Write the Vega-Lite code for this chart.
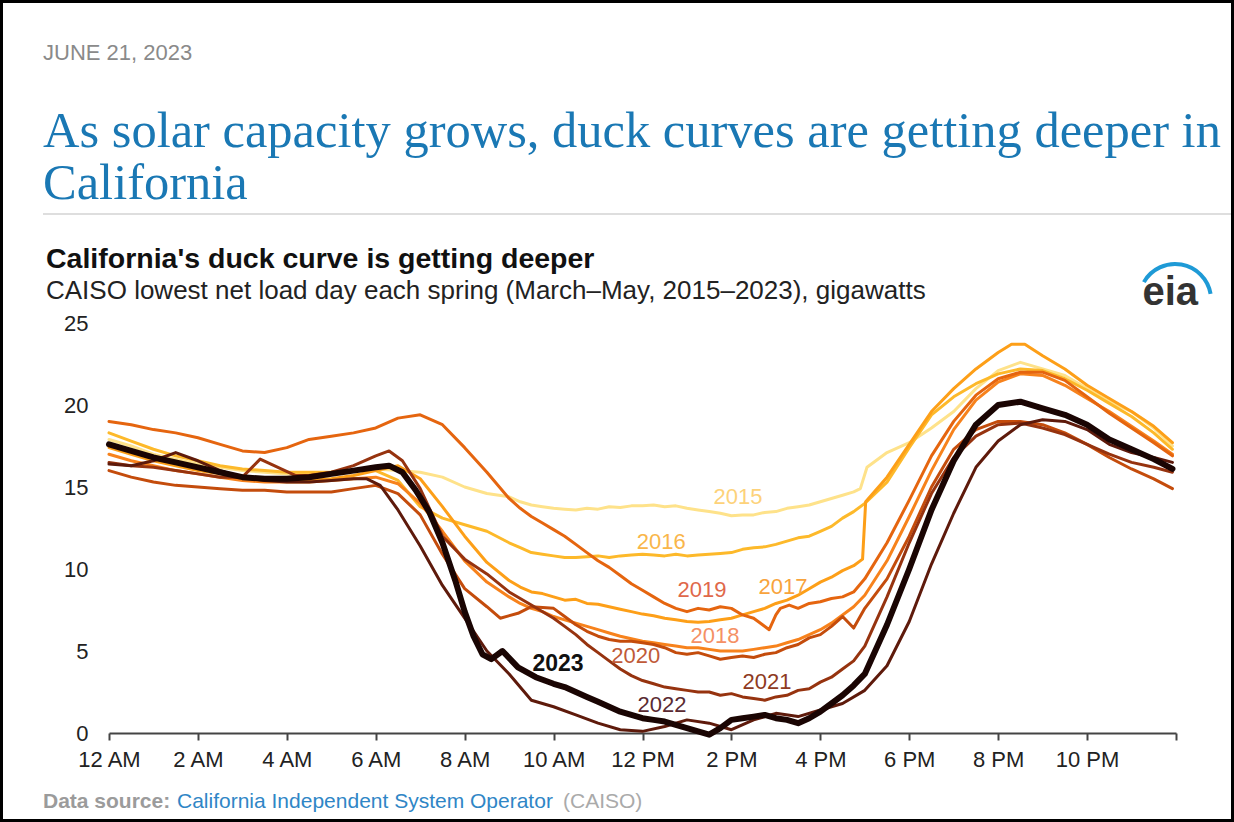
{
  "$schema": "https://vega.github.io/schema/vega-lite/v6.json",
  "autosize": {"type": "none"},
  "width": 1067,
  "height": 410,
  "padding": {"left": 109, "top": 323, "right": 58, "bottom": 89},
  "background": "white",
  "config": {"view": {"stroke": null}, "axis": {"labelFont": "Liberation Sans", "labelColor": "#222222"}},
  "datasets": {
    "lines": [
      {"year":"2015","h":0,"v":17.9},{"year":"2015","h":0.5,"v":17.5},{"year":"2015","h":1,"v":17.0},{"year":"2015","h":1.5,"v":16.7},{"year":"2015","h":2,"v":16.4},{"year":"2015","h":2.5,"v":16.2},{"year":"2015","h":3,"v":16.0},{"year":"2015","h":3.5,"v":15.9},{"year":"2015","h":4,"v":15.8},{"year":"2015","h":4.5,"v":15.8},{"year":"2015","h":5,"v":15.9},{"year":"2015","h":5.5,"v":16.0},{"year":"2015","h":6,"v":16.1},{"year":"2015","h":6.5,"v":16.0},{"year":"2015","h":7,"v":15.9},{"year":"2015","h":7.5,"v":15.6},{"year":"2015","h":8,"v":15.0},{"year":"2015","h":8.5,"v":14.6},{"year":"2015","h":9,"v":14.4},{"year":"2015","h":9.25,"v":14.1},{"year":"2015","h":9.5,"v":13.9},{"year":"2015","h":9.75,"v":13.8},{"year":"2015","h":10,"v":13.7},{"year":"2015","h":10.25,"v":13.65},{"year":"2015","h":10.5,"v":13.6},{"year":"2015","h":10.75,"v":13.7},{"year":"2015","h":11,"v":13.65},{"year":"2015","h":11.25,"v":13.8},{"year":"2015","h":11.5,"v":13.75},{"year":"2015","h":11.75,"v":13.85},{"year":"2015","h":12,"v":13.85},{"year":"2015","h":12.25,"v":13.9},{"year":"2015","h":12.5,"v":13.8},{"year":"2015","h":12.75,"v":13.85},{"year":"2015","h":13,"v":13.7},{"year":"2015","h":13.25,"v":13.6},{"year":"2015","h":13.5,"v":13.5},{"year":"2015","h":13.75,"v":13.4},{"year":"2015","h":14,"v":13.25},{"year":"2015","h":14.25,"v":13.3},{"year":"2015","h":14.5,"v":13.3},{"year":"2015","h":14.75,"v":13.45},{"year":"2015","h":15,"v":13.5},{"year":"2015","h":15.25,"v":13.7},{"year":"2015","h":15.5,"v":13.8},{"year":"2015","h":15.75,"v":13.9},{"year":"2015","h":16,"v":14.1},{"year":"2015","h":16.25,"v":14.3},{"year":"2015","h":16.5,"v":14.5},{"year":"2015","h":16.75,"v":14.7},{"year":"2015","h":16.9,"v":14.9},{"year":"2015","h":17.05,"v":16.2},{"year":"2015","h":17.5,"v":17.1},{"year":"2015","h":18,"v":17.7},{"year":"2015","h":18.5,"v":18.6},{"year":"2015","h":19,"v":19.6},{"year":"2015","h":19.5,"v":21.0},{"year":"2015","h":20,"v":22.1},{"year":"2015","h":20.5,"v":22.6},{"year":"2015","h":21,"v":22.2},{"year":"2015","h":21.5,"v":21.8},{"year":"2015","h":22,"v":21.0},{"year":"2015","h":22.5,"v":20.2},{"year":"2015","h":23,"v":19.6},{"year":"2015","h":23.5,"v":18.6},{"year":"2015","h":23.92,"v":17.5},
      {"year":"2016","h":0,"v":18.3},{"year":"2016","h":0.5,"v":17.8},{"year":"2016","h":1,"v":17.3},{"year":"2016","h":1.5,"v":16.9},{"year":"2016","h":2,"v":16.6},{"year":"2016","h":2.5,"v":16.3},{"year":"2016","h":3,"v":16.1},{"year":"2016","h":3.5,"v":16.0},{"year":"2016","h":4,"v":15.9},{"year":"2016","h":4.5,"v":15.9},{"year":"2016","h":5,"v":15.9},{"year":"2016","h":5.5,"v":16.0},{"year":"2016","h":6,"v":16.0},{"year":"2016","h":6.5,"v":15.4},{"year":"2016","h":7,"v":13.8},{"year":"2016","h":7.5,"v":13.1},{"year":"2016","h":8,"v":12.7},{"year":"2016","h":8.5,"v":12.3},{"year":"2016","h":9,"v":11.6},{"year":"2016","h":9.25,"v":11.3},{"year":"2016","h":9.5,"v":11.0},{"year":"2016","h":9.75,"v":10.9},{"year":"2016","h":10,"v":10.8},{"year":"2016","h":10.25,"v":10.7},{"year":"2016","h":10.5,"v":10.7},{"year":"2016","h":10.75,"v":10.75},{"year":"2016","h":11,"v":10.8},{"year":"2016","h":11.25,"v":10.7},{"year":"2016","h":11.5,"v":10.8},{"year":"2016","h":11.75,"v":10.85},{"year":"2016","h":12,"v":10.9},{"year":"2016","h":12.25,"v":10.85},{"year":"2016","h":12.5,"v":10.8},{"year":"2016","h":12.75,"v":10.9},{"year":"2016","h":13,"v":10.8},{"year":"2016","h":13.25,"v":10.85},{"year":"2016","h":13.5,"v":10.9},{"year":"2016","h":13.75,"v":10.95},{"year":"2016","h":14,"v":11.0},{"year":"2016","h":14.25,"v":11.2},{"year":"2016","h":14.5,"v":11.3},{"year":"2016","h":14.75,"v":11.35},{"year":"2016","h":15,"v":11.5},{"year":"2016","h":15.25,"v":11.7},{"year":"2016","h":15.5,"v":11.9},{"year":"2016","h":15.75,"v":12.0},{"year":"2016","h":16,"v":12.3},{"year":"2016","h":16.25,"v":12.6},{"year":"2016","h":16.5,"v":13.1},{"year":"2016","h":16.75,"v":13.5},{"year":"2016","h":17,"v":14.0},{"year":"2016","h":17.5,"v":15.3},{"year":"2016","h":18,"v":17.4},{"year":"2016","h":18.5,"v":19.4},{"year":"2016","h":19,"v":20.5},{"year":"2016","h":19.5,"v":21.3},{"year":"2016","h":20,"v":21.9},{"year":"2016","h":20.5,"v":22.2},{"year":"2016","h":21,"v":22.1},{"year":"2016","h":21.5,"v":21.6},{"year":"2016","h":22,"v":20.9},{"year":"2016","h":22.5,"v":20.1},{"year":"2016","h":23,"v":19.3},{"year":"2016","h":23.5,"v":18.3},{"year":"2016","h":23.92,"v":17.3},
      {"year":"2017","h":0,"v":17.4},{"year":"2017","h":0.5,"v":17.0},{"year":"2017","h":1,"v":16.6},{"year":"2017","h":1.5,"v":16.3},{"year":"2017","h":2,"v":16.0},{"year":"2017","h":2.5,"v":15.8},{"year":"2017","h":3,"v":15.6},{"year":"2017","h":3.5,"v":15.5},{"year":"2017","h":4,"v":15.4},{"year":"2017","h":4.5,"v":15.4},{"year":"2017","h":5,"v":15.5},{"year":"2017","h":5.5,"v":15.7},{"year":"2017","h":6,"v":16.0},{"year":"2017","h":6.5,"v":16.3},{"year":"2017","h":7,"v":15.5},{"year":"2017","h":7.5,"v":13.8},{"year":"2017","h":8,"v":12.0},{"year":"2017","h":8.5,"v":10.4},{"year":"2017","h":9,"v":9.3},{"year":"2017","h":9.25,"v":8.9},{"year":"2017","h":9.5,"v":8.6},{"year":"2017","h":9.75,"v":8.5},{"year":"2017","h":10,"v":8.3},{"year":"2017","h":10.25,"v":8.1},{"year":"2017","h":10.5,"v":8.15},{"year":"2017","h":10.75,"v":7.9},{"year":"2017","h":11,"v":7.85},{"year":"2017","h":11.25,"v":7.7},{"year":"2017","h":11.5,"v":7.55},{"year":"2017","h":11.75,"v":7.4},{"year":"2017","h":12,"v":7.25},{"year":"2017","h":12.25,"v":7.15},{"year":"2017","h":12.5,"v":7.0},{"year":"2017","h":12.75,"v":6.9},{"year":"2017","h":13,"v":6.8},{"year":"2017","h":13.25,"v":6.75},{"year":"2017","h":13.5,"v":6.8},{"year":"2017","h":13.75,"v":6.9},{"year":"2017","h":14,"v":7.0},{"year":"2017","h":14.25,"v":7.2},{"year":"2017","h":14.5,"v":7.4},{"year":"2017","h":14.75,"v":7.6},{"year":"2017","h":15,"v":7.9},{"year":"2017","h":15.25,"v":8.1},{"year":"2017","h":15.5,"v":8.4},{"year":"2017","h":15.75,"v":8.8},{"year":"2017","h":16,"v":9.2},{"year":"2017","h":16.25,"v":9.5},{"year":"2017","h":16.5,"v":9.9},{"year":"2017","h":16.75,"v":10.2},{"year":"2017","h":16.95,"v":10.6},{"year":"2017","h":17.02,"v":14.1},{"year":"2017","h":17.5,"v":15.6},{"year":"2017","h":18,"v":17.6},{"year":"2017","h":18.5,"v":19.6},{"year":"2017","h":19,"v":21.0},{"year":"2017","h":19.5,"v":22.2},{"year":"2017","h":20,"v":23.2},{"year":"2017","h":20.3,"v":23.7},{"year":"2017","h":20.6,"v":23.7},{"year":"2017","h":21,"v":23.0},{"year":"2017","h":21.5,"v":22.2},{"year":"2017","h":22,"v":21.2},{"year":"2017","h":22.5,"v":20.4},{"year":"2017","h":23,"v":19.6},{"year":"2017","h":23.5,"v":18.7},{"year":"2017","h":23.92,"v":17.7},
      {"year":"2018","h":0,"v":17.0},{"year":"2018","h":0.5,"v":16.6},{"year":"2018","h":1,"v":16.3},{"year":"2018","h":1.5,"v":16.0},{"year":"2018","h":2,"v":15.8},{"year":"2018","h":2.5,"v":15.6},{"year":"2018","h":3,"v":15.4},{"year":"2018","h":3.5,"v":15.3},{"year":"2018","h":4,"v":15.3},{"year":"2018","h":4.5,"v":15.3},{"year":"2018","h":5,"v":15.4},{"year":"2018","h":5.5,"v":15.5},{"year":"2018","h":6,"v":15.6},{"year":"2018","h":6.5,"v":15.2},{"year":"2018","h":7,"v":14.0},{"year":"2018","h":7.5,"v":12.3},{"year":"2018","h":8,"v":10.5},{"year":"2018","h":8.5,"v":9.2},{"year":"2018","h":9,"v":8.3},{"year":"2018","h":9.25,"v":7.9},{"year":"2018","h":9.5,"v":7.6},{"year":"2018","h":9.75,"v":7.4},{"year":"2018","h":10,"v":7.1},{"year":"2018","h":10.25,"v":6.9},{"year":"2018","h":10.5,"v":6.7},{"year":"2018","h":10.75,"v":6.5},{"year":"2018","h":11,"v":6.3},{"year":"2018","h":11.25,"v":6.1},{"year":"2018","h":11.5,"v":5.9},{"year":"2018","h":11.75,"v":5.75},{"year":"2018","h":12,"v":5.6},{"year":"2018","h":12.25,"v":5.5},{"year":"2018","h":12.5,"v":5.4},{"year":"2018","h":12.75,"v":5.3},{"year":"2018","h":13,"v":5.2},{"year":"2018","h":13.25,"v":5.2},{"year":"2018","h":13.5,"v":5.1},{"year":"2018","h":13.75,"v":5.0},{"year":"2018","h":14,"v":5.0},{"year":"2018","h":14.25,"v":5.0},{"year":"2018","h":14.5,"v":5.1},{"year":"2018","h":14.75,"v":5.2},{"year":"2018","h":15,"v":5.3},{"year":"2018","h":15.25,"v":5.5},{"year":"2018","h":15.5,"v":5.7},{"year":"2018","h":15.75,"v":6.0},{"year":"2018","h":16,"v":6.3},{"year":"2018","h":16.25,"v":6.7},{"year":"2018","h":16.5,"v":7.2},{"year":"2018","h":16.75,"v":7.7},{"year":"2018","h":17,"v":8.4},{"year":"2018","h":17.5,"v":10.5},{"year":"2018","h":18,"v":13.2},{"year":"2018","h":18.5,"v":16.0},{"year":"2018","h":19,"v":18.5},{"year":"2018","h":19.5,"v":20.3},{"year":"2018","h":20,"v":21.4},{"year":"2018","h":20.5,"v":21.9},{"year":"2018","h":21,"v":21.8},{"year":"2018","h":21.5,"v":21.2},{"year":"2018","h":22,"v":20.4},{"year":"2018","h":22.5,"v":19.6},{"year":"2018","h":23,"v":18.7},{"year":"2018","h":23.5,"v":17.8},{"year":"2018","h":23.92,"v":17.0},
      {"year":"2019","h":0,"v":19.0},{"year":"2019","h":0.5,"v":18.8},{"year":"2019","h":1,"v":18.5},{"year":"2019","h":1.5,"v":18.3},{"year":"2019","h":2,"v":18.0},{"year":"2019","h":2.5,"v":17.6},{"year":"2019","h":3,"v":17.2},{"year":"2019","h":3.5,"v":17.1},{"year":"2019","h":4,"v":17.4},{"year":"2019","h":4.5,"v":17.9},{"year":"2019","h":5,"v":18.1},{"year":"2019","h":5.5,"v":18.3},{"year":"2019","h":6,"v":18.6},{"year":"2019","h":6.5,"v":19.2},{"year":"2019","h":7,"v":19.4},{"year":"2019","h":7.5,"v":18.8},{"year":"2019","h":8,"v":17.4},{"year":"2019","h":8.5,"v":15.9},{"year":"2019","h":9,"v":14.3},{"year":"2019","h":9.25,"v":13.7},{"year":"2019","h":9.5,"v":13.2},{"year":"2019","h":9.75,"v":12.8},{"year":"2019","h":10,"v":12.4},{"year":"2019","h":10.25,"v":12.0},{"year":"2019","h":10.5,"v":11.5},{"year":"2019","h":10.75,"v":11.0},{"year":"2019","h":11,"v":10.5},{"year":"2019","h":11.25,"v":10.1},{"year":"2019","h":11.5,"v":9.6},{"year":"2019","h":11.75,"v":9.1},{"year":"2019","h":12,"v":8.7},{"year":"2019","h":12.25,"v":8.3},{"year":"2019","h":12.5,"v":7.9},{"year":"2019","h":12.75,"v":7.6},{"year":"2019","h":13,"v":7.4},{"year":"2019","h":13.25,"v":7.6},{"year":"2019","h":13.5,"v":7.5},{"year":"2019","h":13.75,"v":7.7},{"year":"2019","h":14,"v":7.6},{"year":"2019","h":14.25,"v":7.2},{"year":"2019","h":14.5,"v":7.0},{"year":"2019","h":14.7,"v":6.6},{"year":"2019","h":14.85,"v":6.3},{"year":"2019","h":15,"v":7.2},{"year":"2019","h":15.1,"v":7.6},{"year":"2019","h":15.3,"v":7.8},{"year":"2019","h":15.5,"v":7.6},{"year":"2019","h":15.75,"v":7.9},{"year":"2019","h":16,"v":8.0},{"year":"2019","h":16.25,"v":8.2},{"year":"2019","h":16.5,"v":8.3},{"year":"2019","h":16.75,"v":8.6},{"year":"2019","h":17,"v":9.4},{"year":"2019","h":17.5,"v":11.6},{"year":"2019","h":18,"v":14.2},{"year":"2019","h":18.5,"v":16.9},{"year":"2019","h":19,"v":19.0},{"year":"2019","h":19.5,"v":20.6},{"year":"2019","h":20,"v":21.6},{"year":"2019","h":20.5,"v":22.0},{"year":"2019","h":21,"v":22.0},{"year":"2019","h":21.5,"v":21.5},{"year":"2019","h":22,"v":20.5},{"year":"2019","h":22.5,"v":19.5},{"year":"2019","h":23,"v":18.6},{"year":"2019","h":23.5,"v":17.7},{"year":"2019","h":23.92,"v":16.9},
      {"year":"2020","h":0,"v":16.0},{"year":"2020","h":0.5,"v":15.6},{"year":"2020","h":1,"v":15.3},{"year":"2020","h":1.5,"v":15.1},{"year":"2020","h":2,"v":15.0},{"year":"2020","h":2.5,"v":14.9},{"year":"2020","h":3,"v":14.8},{"year":"2020","h":3.5,"v":14.8},{"year":"2020","h":4,"v":14.7},{"year":"2020","h":4.5,"v":14.7},{"year":"2020","h":5,"v":14.7},{"year":"2020","h":5.5,"v":14.9},{"year":"2020","h":6,"v":15.1},{"year":"2020","h":6.5,"v":14.6},{"year":"2020","h":7,"v":13.3},{"year":"2020","h":7.5,"v":10.9},{"year":"2020","h":8,"v":8.8},{"year":"2020","h":8.5,"v":7.7},{"year":"2020","h":8.8,"v":7.0},{"year":"2020","h":9.2,"v":7.3},{"year":"2020","h":9.5,"v":7.7},{"year":"2020","h":10,"v":7.6},{"year":"2020","h":10.25,"v":7.1},{"year":"2020","h":10.5,"v":6.6},{"year":"2020","h":10.75,"v":6.2},{"year":"2020","h":11,"v":5.9},{"year":"2020","h":11.25,"v":5.7},{"year":"2020","h":11.5,"v":5.6},{"year":"2020","h":11.75,"v":5.6},{"year":"2020","h":12,"v":5.5},{"year":"2020","h":12.25,"v":5.4},{"year":"2020","h":12.5,"v":5.2},{"year":"2020","h":12.75,"v":4.9},{"year":"2020","h":13,"v":4.8},{"year":"2020","h":13.25,"v":4.9},{"year":"2020","h":13.5,"v":4.7},{"year":"2020","h":13.75,"v":4.5},{"year":"2020","h":14,"v":4.6},{"year":"2020","h":14.25,"v":4.7},{"year":"2020","h":14.5,"v":4.6},{"year":"2020","h":14.75,"v":4.8},{"year":"2020","h":15,"v":4.9},{"year":"2020","h":15.25,"v":5.2},{"year":"2020","h":15.5,"v":5.4},{"year":"2020","h":15.75,"v":5.8},{"year":"2020","h":16,"v":6.0},{"year":"2020","h":16.25,"v":6.5},{"year":"2020","h":16.5,"v":7.1},{"year":"2020","h":16.75,"v":6.4},{"year":"2020","h":17,"v":7.6},{"year":"2020","h":17.5,"v":9.4},{"year":"2020","h":18,"v":12.0},{"year":"2020","h":18.5,"v":15.0},{"year":"2020","h":19,"v":17.3},{"year":"2020","h":19.5,"v":18.5},{"year":"2020","h":20,"v":19.0},{"year":"2020","h":20.5,"v":19.0},{"year":"2020","h":21,"v":18.8},{"year":"2020","h":21.5,"v":18.3},{"year":"2020","h":22,"v":17.6},{"year":"2020","h":22.5,"v":16.8},{"year":"2020","h":23,"v":16.1},{"year":"2020","h":23.5,"v":15.5},{"year":"2020","h":23.92,"v":14.9},
      {"year":"2021","h":0,"v":16.5},{"year":"2021","h":0.5,"v":16.3},{"year":"2021","h":1,"v":16.2},{"year":"2021","h":1.5,"v":16.0},{"year":"2021","h":2,"v":15.8},{"year":"2021","h":2.5,"v":15.6},{"year":"2021","h":3,"v":15.6},{"year":"2021","h":3.4,"v":16.7},{"year":"2021","h":3.8,"v":16.2},{"year":"2021","h":4.2,"v":15.7},{"year":"2021","h":4.5,"v":15.7},{"year":"2021","h":5,"v":15.9},{"year":"2021","h":5.5,"v":16.3},{"year":"2021","h":6,"v":16.9},{"year":"2021","h":6.3,"v":17.2},{"year":"2021","h":6.6,"v":16.6},{"year":"2021","h":7,"v":14.9},{"year":"2021","h":7.5,"v":12.0},{"year":"2021","h":8,"v":10.6},{"year":"2021","h":8.5,"v":9.7},{"year":"2021","h":9,"v":8.6},{"year":"2021","h":9.5,"v":7.8},{"year":"2021","h":10,"v":7.0},{"year":"2021","h":10.25,"v":6.5},{"year":"2021","h":10.5,"v":6.0},{"year":"2021","h":10.75,"v":5.4},{"year":"2021","h":11,"v":4.9},{"year":"2021","h":11.25,"v":4.4},{"year":"2021","h":11.5,"v":3.9},{"year":"2021","h":11.75,"v":3.5},{"year":"2021","h":12,"v":3.2},{"year":"2021","h":12.25,"v":3.0},{"year":"2021","h":12.5,"v":2.8},{"year":"2021","h":12.75,"v":2.7},{"year":"2021","h":13,"v":2.6},{"year":"2021","h":13.25,"v":2.5},{"year":"2021","h":13.5,"v":2.5},{"year":"2021","h":13.75,"v":2.3},{"year":"2021","h":14,"v":2.4},{"year":"2021","h":14.25,"v":2.2},{"year":"2021","h":14.5,"v":2.1},{"year":"2021","h":14.75,"v":2.0},{"year":"2021","h":15,"v":2.2},{"year":"2021","h":15.25,"v":2.3},{"year":"2021","h":15.5,"v":2.6},{"year":"2021","h":15.75,"v":2.7},{"year":"2021","h":16,"v":3.1},{"year":"2021","h":16.25,"v":3.4},{"year":"2021","h":16.5,"v":3.9},{"year":"2021","h":16.75,"v":4.4},{"year":"2021","h":17,"v":5.3},{"year":"2021","h":17.5,"v":8.3},{"year":"2021","h":18,"v":11.6},{"year":"2021","h":18.5,"v":14.6},{"year":"2021","h":19,"v":16.8},{"year":"2021","h":19.5,"v":18.1},{"year":"2021","h":20,"v":18.8},{"year":"2021","h":20.5,"v":18.9},{"year":"2021","h":21,"v":18.6},{"year":"2021","h":21.5,"v":18.2},{"year":"2021","h":22,"v":17.6},{"year":"2021","h":22.5,"v":17.0},{"year":"2021","h":23,"v":16.5},{"year":"2021","h":23.5,"v":16.2},{"year":"2021","h":23.92,"v":15.9},
      {"year":"2022","h":0,"v":16.4},{"year":"2022","h":0.5,"v":16.3},{"year":"2022","h":1,"v":16.6},{"year":"2022","h":1.5,"v":17.1},{"year":"2022","h":2,"v":16.6},{"year":"2022","h":2.5,"v":16.0},{"year":"2022","h":3,"v":15.6},{"year":"2022","h":3.5,"v":15.4},{"year":"2022","h":4,"v":15.3},{"year":"2022","h":4.5,"v":15.3},{"year":"2022","h":5,"v":15.4},{"year":"2022","h":5.5,"v":15.5},{"year":"2022","h":5.8,"v":15.5},{"year":"2022","h":6.1,"v":15.1},{"year":"2022","h":6.5,"v":13.6},{"year":"2022","h":6.75,"v":12.5},{"year":"2022","h":7,"v":11.4},{"year":"2022","h":7.5,"v":9.0},{"year":"2022","h":8,"v":7.0},{"year":"2022","h":8.5,"v":5.0},{"year":"2022","h":9,"v":3.6},{"year":"2022","h":9.5,"v":2.0},{"year":"2022","h":10,"v":1.6},{"year":"2022","h":10.5,"v":1.1},{"year":"2022","h":11,"v":0.6},{"year":"2022","h":11.5,"v":0.2},{"year":"2022","h":12,"v":0.1},{"year":"2022","h":12.5,"v":0.4},{"year":"2022","h":13,"v":0.8},{"year":"2022","h":13.5,"v":0.6},{"year":"2022","h":14,"v":0.2},{"year":"2022","h":14.5,"v":0.8},{"year":"2022","h":15,"v":1.2},{"year":"2022","h":15.5,"v":1.0},{"year":"2022","h":16,"v":1.4},{"year":"2022","h":16.5,"v":1.8},{"year":"2022","h":17,"v":2.6},{"year":"2022","h":17.5,"v":4.1},{"year":"2022","h":18,"v":6.8},{"year":"2022","h":18.5,"v":10.3},{"year":"2022","h":19,"v":13.4},{"year":"2022","h":19.5,"v":16.2},{"year":"2022","h":20,"v":17.8},{"year":"2022","h":20.5,"v":18.8},{"year":"2022","h":21,"v":19.1},{"year":"2022","h":21.5,"v":19.0},{"year":"2022","h":22,"v":18.5},{"year":"2022","h":22.5,"v":17.6},{"year":"2022","h":23,"v":17.1},{"year":"2022","h":23.5,"v":16.8},{"year":"2022","h":23.92,"v":16.5},
      {"year":"2023","h":0,"v":17.6},{"year":"2023","h":0.5,"v":17.2},{"year":"2023","h":1,"v":16.8},{"year":"2023","h":1.5,"v":16.5},{"year":"2023","h":2,"v":16.2},{"year":"2023","h":2.5,"v":15.9},{"year":"2023","h":3,"v":15.6},{"year":"2023","h":3.5,"v":15.5},{"year":"2023","h":4,"v":15.5},{"year":"2023","h":4.5,"v":15.6},{"year":"2023","h":5,"v":15.8},{"year":"2023","h":5.5,"v":16.0},{"year":"2023","h":6,"v":16.2},{"year":"2023","h":6.3,"v":16.3},{"year":"2023","h":6.6,"v":15.9},{"year":"2023","h":6.9,"v":14.8},{"year":"2023","h":7.2,"v":13.5},{"year":"2023","h":7.5,"v":11.6},{"year":"2023","h":7.8,"v":9.2},{"year":"2023","h":8,"v":7.4},{"year":"2023","h":8.2,"v":5.9},{"year":"2023","h":8.4,"v":4.8},{"year":"2023","h":8.6,"v":4.5},{"year":"2023","h":8.85,"v":5.0},{"year":"2023","h":9.2,"v":4.0},{"year":"2023","h":9.6,"v":3.4},{"year":"2023","h":10,"v":3.0},{"year":"2023","h":10.25,"v":2.8},{"year":"2023","h":10.5,"v":2.5},{"year":"2023","h":10.75,"v":2.2},{"year":"2023","h":11,"v":1.9},{"year":"2023","h":11.25,"v":1.6},{"year":"2023","h":11.5,"v":1.3},{"year":"2023","h":11.75,"v":1.1},{"year":"2023","h":12,"v":0.9},{"year":"2023","h":12.25,"v":0.8},{"year":"2023","h":12.5,"v":0.7},{"year":"2023","h":12.75,"v":0.5},{"year":"2023","h":13,"v":0.3},{"year":"2023","h":13.25,"v":0.1},{"year":"2023","h":13.5,"v":-0.1},{"year":"2023","h":13.75,"v":0.3},{"year":"2023","h":14,"v":0.8},{"year":"2023","h":14.25,"v":0.9},{"year":"2023","h":14.5,"v":1.0},{"year":"2023","h":14.75,"v":1.1},{"year":"2023","h":15,"v":0.9},{"year":"2023","h":15.25,"v":0.8},{"year":"2023","h":15.5,"v":0.6},{"year":"2023","h":15.75,"v":0.9},{"year":"2023","h":16,"v":1.3},{"year":"2023","h":16.25,"v":1.8},{"year":"2023","h":16.5,"v":2.3},{"year":"2023","h":16.75,"v":2.9},{"year":"2023","h":17,"v":3.6},{"year":"2023","h":17.5,"v":6.6},{"year":"2023","h":18,"v":10.0},{"year":"2023","h":18.5,"v":13.6},{"year":"2023","h":19,"v":16.6},{"year":"2023","h":19.5,"v":18.8},{"year":"2023","h":20,"v":20.0},{"year":"2023","h":20.5,"v":20.2},{"year":"2023","h":21,"v":19.8},{"year":"2023","h":21.5,"v":19.4},{"year":"2023","h":22,"v":18.8},{"year":"2023","h":22.5,"v":17.9},{"year":"2023","h":23,"v":17.3},{"year":"2023","h":23.5,"v":16.7},{"year":"2023","h":23.92,"v":16.1}
    ],
    "labels": [
      {"year":"2015","h":14.15,"v":14.39},
      {"year":"2016","h":12.42,"v":11.65},
      {"year":"2017","h":15.16,"v":8.9},
      {"year":"2018","h":13.63,"v":5.91},
      {"year":"2019","h":13.34,"v":8.72},
      {"year":"2020","h":11.85,"v":4.7},
      {"year":"2021","h":14.8,"v":3.11},
      {"year":"2022","h":12.44,"v":1.71},
      {"year":"2023","h":10.1,"v":4.21}
    ]
  },
  "resolve": {"scale": {"color": "independent"}},
  "layer": [
    {
      "data": {"name": "lines"},
      "transform": [{"filter": "datum.year != '2023'"}],
      "mark": {"type": "line", "strokeWidth": 3, "strokeCap": "round", "strokeJoin": "round"},
      "encoding": {
        "x": {"field": "h", "type": "quantitative",
          "scale": {"domain": [0, 24], "nice": false, "zero": false},
          "axis": {"title": null, "grid": false, "values": [0,2,4,6,8,10,12,14,16,18,20,22,24],
            "labelExpr": "datum.value >= 24 ? '' : ((datum.value % 12 == 0 ? 12 : datum.value % 12) + (datum.value < 12 ? ' AM' : ' PM'))",
            "labelFontSize": 22, "labelPadding": 9, "labelFlush": false, "labelOverlap": false,
            "domainColor": "#444444", "domainWidth": 2, "tickColor": "#444444", "tickWidth": 2, "tickSize": 7}},
        "y": {"field": "v", "type": "quantitative",
          "scale": {"domain": [0, 25], "nice": false, "zero": false},
          "axis": {"title": null, "grid": false, "domain": false, "ticks": false, "values": [0,5,10,15,20,25],
            "labelFontSize": 22, "labelPadding": 21}},
        "color": {"field": "year", "type": "nominal", "legend": null,
          "scale": {"domain": ["2015","2016","2017","2018","2019","2020","2021","2022"],
            "range": ["#fee28a","#fdb92a","#fd9f18","#f7821c","#e5650f","#c44c0c","#96330f","#5e1a0b"]}},
        "order": {"field": "h"}
      }
    },
    {
      "data": {"name": "lines"},
      "transform": [{"filter": "datum.year == '2023'"}],
      "mark": {"type": "line", "strokeWidth": 6, "strokeCap": "round", "strokeJoin": "round", "color": "#1a0503"},
      "encoding": {
        "x": {"field": "h", "type": "quantitative"},
        "y": {"field": "v", "type": "quantitative"},
        "order": {"field": "h"}
      }
    },
    {
      "data": {"name": "labels"},
      "transform": [{"filter": "datum.year != '2023'"}],
      "mark": {"type": "text", "font": "Liberation Sans", "fontSize": 22, "align": "center", "baseline": "middle"},
      "encoding": {
        "x": {"field": "h", "type": "quantitative"},
        "y": {"field": "v", "type": "quantitative"},
        "text": {"field": "year"},
        "color": {"field": "year", "type": "nominal", "legend": null,
          "scale": {"domain": ["2015","2016","2017","2018","2019","2020","2021","2022"],
            "range": ["#fdd27a","#f9b64a","#f8a33c","#f59064","#e0684a","#c05a38","#8e3a22","#5a2a32"]}}
      }
    },
    {
      "data": {"name": "labels"},
      "transform": [{"filter": "datum.year == '2023'"}],
      "mark": {"type": "text", "font": "Liberation Sans", "fontSize": 23, "fontWeight": "bold", "align": "center", "baseline": "middle", "color": "#111111"},
      "encoding": {
        "x": {"field": "h", "type": "quantitative"},
        "y": {"field": "v", "type": "quantitative"},
        "text": {"field": "year"}
      }
    },
    {
      "data": {"values": [{}]},
      "mark": {"type": "text", "font": "Liberation Sans", "fontSize": 22, "align": "left", "baseline": "middle", "color": "#8a8a8a"},
      "encoding": {"x": {"datum": -1.4845, "type": "quantitative"}, "y": {"datum": 41.45, "type": "quantitative"}, "text": {"value": "JUNE 21, 2023"}}
    },
    {
      "data": {"values": [{}]},
      "mark": {"type": "text", "font": "Liberation Serif", "fontSize": 50.5, "align": "left", "baseline": "alphabetic", "color": "#1a78b4"},
      "encoding": {"x": {"datum": -1.4845, "type": "quantitative"}, "y": {"datum": 35.73, "type": "quantitative"}, "text": {"value": "As solar capacity grows, duck curves are getting deeper in"}}
    },
    {
      "data": {"values": [{}]},
      "mark": {"type": "text", "font": "Liberation Serif", "fontSize": 50.5, "align": "left", "baseline": "alphabetic", "color": "#1a78b4"},
      "encoding": {"x": {"datum": -1.4845, "type": "quantitative"}, "y": {"datum": 32.56, "type": "quantitative"}, "text": {"value": "California"}}
    },
    {
      "data": {"values": [{}]},
      "mark": {"type": "rule", "color": "#dedede", "strokeWidth": 2},
      "encoding": {"x": {"datum": -1.4845, "type": "quantitative"}, "x2": {"datum": 25.304}, "y": {"datum": 31.65, "type": "quantitative"}}
    },
    {
      "data": {"values": [{}]},
      "mark": {"type": "text", "font": "Liberation Sans", "fontSize": 28.5, "fontWeight": "bold", "align": "left", "baseline": "middle", "color": "#111111"},
      "encoding": {"x": {"datum": -1.417, "type": "quantitative"}, "y": {"datum": 28.9, "type": "quantitative"}, "text": {"value": "California's duck curve is getting deeper"}}
    },
    {
      "data": {"values": [{}]},
      "mark": {"type": "text", "font": "Liberation Sans", "fontSize": 26, "align": "left", "baseline": "middle", "color": "#222222"},
      "encoding": {"x": {"datum": -1.417, "type": "quantitative"}, "y": {"datum": 26.95, "type": "quantitative"}, "text": {"value": "CAISO lowest net load day each spring (March–May, 2015–2023), gigawatts"}}
    },
    {
      "data": {"values": [{}]},
      "mark": {"type": "text", "font": "Liberation Sans", "fontSize": 40, "fontWeight": "bold", "align": "center", "baseline": "alphabetic", "color": "#333333"},
      "encoding": {"x": {"datum": 23.87, "type": "quantitative"}, "y": {"datum": 26.1, "type": "quantitative"}, "text": {"value": "eia"}}
    },
    {
      "data": {"values": [{}]},
      "mark": {"type": "arc", "radius": 38, "radius2": 34, "theta": -1.05, "theta2": 1.4, "color": "#1e9ad6"},
      "encoding": {"x": {"datum": 23.98, "type": "quantitative"}, "y": {"datum": 26.4, "type": "quantitative"}}
    },
    {
      "data": {"values": [{}]},
      "mark": {"type": "text", "font": "Liberation Sans", "fontSize": 21, "fontWeight": "bold", "align": "left", "baseline": "middle", "color": "#9b9b9b"},
      "encoding": {"x": {"datum": -1.4845, "type": "quantitative"}, "y": {"datum": -4.207, "type": "quantitative"}, "text": {"value": "Data source:"}}
    },
    {
      "data": {"values": [{}]},
      "mark": {"type": "text", "font": "Liberation Sans", "fontSize": 21, "align": "left", "baseline": "middle", "color": "#2f86c6"},
      "encoding": {"x": {"datum": 1.5295, "type": "quantitative"}, "y": {"datum": -4.207, "type": "quantitative"}, "text": {"value": "California Independent System Operator"}}
    },
    {
      "data": {"values": [{}]},
      "mark": {"type": "text", "font": "Liberation Sans", "fontSize": 21, "align": "left", "baseline": "middle", "color": "#aaaaaa"},
      "encoding": {"x": {"datum": 10.212, "type": "quantitative"}, "y": {"datum": -4.207, "type": "quantitative"}, "text": {"value": "(CAISO)"}}
    },
    {
      "data": {"values": [{}]},
      "mark": {"type": "rect", "fill": null, "stroke": "#000000", "strokeWidth": 3},
      "encoding": {"x": {"datum": -2.418, "type": "quantitative"}, "x2": {"datum": 25.271}, "y": {"datum": 44.6, "type": "quantitative"}, "y2": {"datum": -5.335}}
    }
  ]
}
